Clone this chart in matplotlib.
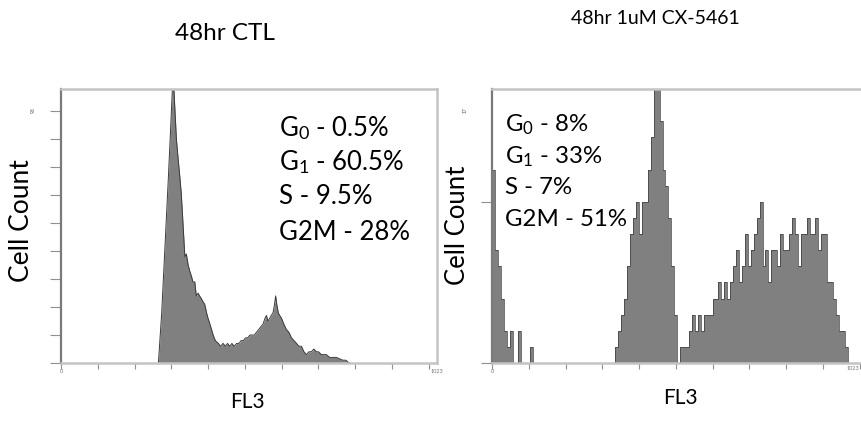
import numpy as np
import matplotlib
matplotlib.use("Agg")
import matplotlib.pyplot as plt

plt.rcParams['font.family'] = ['Lato', 'DejaVu Sans']
plt.rcParams['mathtext.fontset'] = 'custom'
plt.rcParams['mathtext.rm'] = 'Lato'
plt.rcParams['mathtext.it'] = 'Lato:italic'

# --- data ---
titles = ["48hr CTL", "48hr 1uM CX-5461"]
ymax_ctl = 98
ymax_cx = 17

# control: DNA histogram outline (channel, count)
ctl_channel = [265, 274, 283, 292, 298, 305, 309, 314, 318, 323, 327, 331, 337, 341,
               346, 350, 355, 359, 364, 368, 373, 377, 382, 386, 391, 396, 400, 405,
               414, 420, 428, 434, 441, 447, 453, 459, 465, 471, 478, 484, 490, 496,
               502, 508, 514, 520, 526, 532, 538, 544, 550, 555, 559, 563, 568, 572,
               577, 581, 584, 587, 591, 595, 600, 606, 613, 620, 627, 634, 641, 647,
               654, 661, 668, 674, 681, 688, 695, 701, 708, 715, 722, 731, 740, 749,
               758, 767, 775, 781, 786]
ctl_count = [0, 18, 42, 66, 83, 104, 93, 80, 74, 67, 61, 52, 38, 39,
             35, 33, 31, 29, 29, 24, 25, 24, 23, 22, 21, 18, 16, 14,
             10, 8, 7, 6, 7, 6, 7, 6, 7, 6, 7, 7, 8, 8,
             9, 9, 10, 10, 10, 11, 12, 13, 14, 16, 17, 15, 16, 17,
             18, 21, 24, 21, 18, 17, 16, 14, 12, 11, 9, 8, 7, 6,
             6, 4, 3, 4, 4, 5, 4, 4, 3, 3, 3, 2, 2, 2,
             1.5, 1, 1, 0.3, 0]

# CX-5461: counts per 8-channel bin (128 bins over 0-1023)
cx_bin_width = 8
cx_count = [12, 7, 6, 4, 2, 1, 2, 0, 0, 2, 0, 0, 0, 1, 0, 0,
            0, 0, 0, 0, 0, 0, 0, 0, 0, 0, 0, 0, 0, 0, 0, 0,
            0, 0, 0, 0, 0, 0, 0, 0, 0, 0, 1, 2, 3, 4, 6, 8,
            9, 10, 8, 10, 10, 12, 14, 18, 18, 15, 12, 11, 9, 6, 3, 0,
            1, 1, 1, 2, 3, 2, 3, 2, 3, 3, 3, 4, 4, 5, 4, 5,
            4, 5, 6, 7, 5, 6, 8, 6, 7, 8, 9, 10, 6, 7, 5, 7,
            7, 6, 8, 7, 7, 8, 9, 8, 6, 8, 8, 9, 8, 8, 9, 7,
            8, 8, 5, 5, 4, 3, 2, 2, 1, 0, 0, 0, 0, 0, 0, 0]

ctl_text = [r"G$_\mathrm{0}$ - 0.5%", r"G$_\mathrm{1}$ - 60.5%", "S - 9.5%", "G2M - 28%"]
cx_text = [r"G$_\mathrm{0}$ - 8%", r"G$_\mathrm{1}$ - 33%", "S - 7%", "G2M - 51%"]

W, H = 861, 427
fig = plt.figure(figsize=(W / 100, H / 100), dpi=100)


def fx(x):
    return x / W


def fy(y):
    return 1 - y / H


fill_col = "#808080"
edge_col = "#3a3a3a"


def style_axes(ax, ymax, yticks):
    ax.set_xlim(0, 1023)
    ax.set_ylim(0, ymax)
    ax.set_xticks(np.arange(0, 1001, 100))
    ax.set_xticklabels([])
    ax.set_yticks(yticks)
    ax.set_yticklabels([])
    ax.tick_params(axis='x', direction='out', length=4, width=0.8, color='#909090')
    ax.tick_params(axis='y', direction='out', length=8, width=0.8, color='#909090')
    for s in ['top', 'right', 'bottom']:
        ax.spines[s].set_color('#c4c4c4')
        ax.spines[s].set_linewidth(1.8)
    ax.spines['left'].set_color('#7a7a7a')
    ax.spines['left'].set_linewidth(1.6)
    ax.text(0, -0.02, "0", transform=ax.transAxes, fontsize=4, color='#777777',
            ha='center', va='top')


# left panel
ax1 = fig.add_axes([fx(61), fy(364), 376 / W, 274 / H])
ax1.fill_between(ctl_channel, ctl_count, color=fill_col, lw=0)
ax1.plot(ctl_channel, ctl_count, color=edge_col, lw=0.7)
style_axes(ax1, ymax_ctl, np.arange(0, 91, 10))
ax1.text(1.0, -0.02, "1023", transform=ax1.transAxes, fontsize=4, color='#777777',
         ha='center', va='top')

# right panel (runs slightly past the figure edge, as in the original)
ax2 = fig.add_axes([fx(492), fy(364), 376 / W, 274 / H])
edges = np.arange(len(cx_count) + 1) * cx_bin_width
ax2.stairs(cx_count, edges, fill=True, color=fill_col, lw=0)
ax2.stairs(cx_count, edges, color=edge_col, lw=0.5)
style_axes(ax2, ymax_cx, [0, 10])
fig.text(fx(859), fy(366), "1023", fontsize=4, color='#777777', ha='right', va='top')

# tiny max labels
fig.text(fx(33), fy(110), str(ymax_ctl), fontsize=3.5, rotation=90, ha='center', va='center', color='#555555')
fig.text(fx(465), fy(110), str(ymax_cx), fontsize=3.5, rotation=90, ha='center', va='center', color='#555555')

# titles and labels
fig.text(fx(225), fy(33), titles[0], fontsize=17.5, ha='center', va='center')
fig.text(fx(655), fy(19), titles[1], fontsize=14, ha='center', va='center')
fig.text(fx(22), fy(221), "Cell Count", fontsize=19, rotation=90, ha='center', va='center')
fig.text(fx(458), fy(225), "Cell Count", fontsize=18.5, rotation=90, ha='center', va='center')
fig.text(fx(247), fy(402), "FL3", fontsize=15, ha='center', va='center')
fig.text(fx(680), fy(398), "FL3", fontsize=15, ha='center', va='center')

for ys, t in zip([128, 162, 197, 232], ctl_text):
    fig.text(fx(279), fy(ys), t, fontsize=18.5, ha='left', va='center')
for ys, t in zip([125, 157, 187, 220], cx_text):
    fig.text(fx(505), fy(ys), t, fontsize=17.3, ha='left', va='center')

fig.savefig("out.png", dpi=100)
